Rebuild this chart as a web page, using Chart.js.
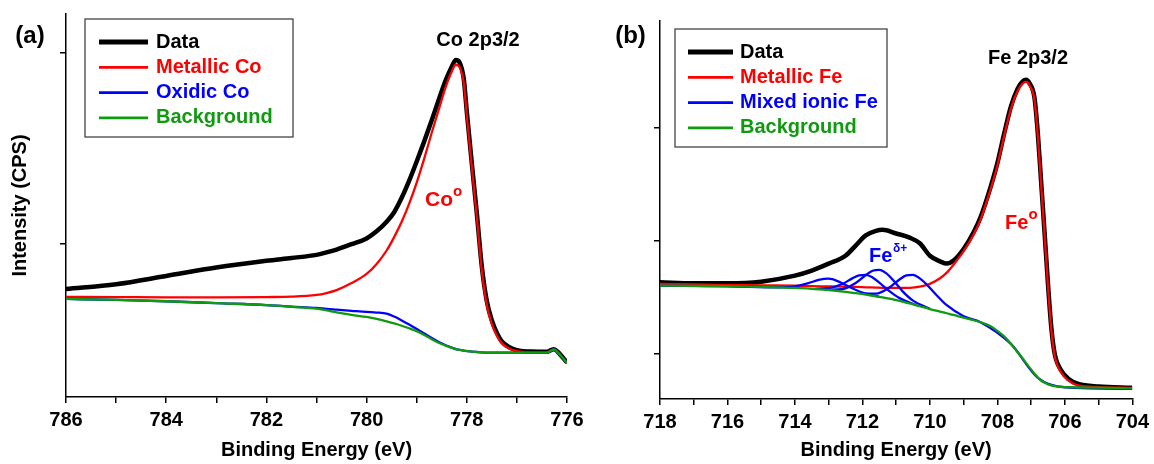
<!DOCTYPE html>
<html>
<head>
<meta charset="UTF-8">
<title>XPS Co 2p3/2 y Fe 2p3/2</title>
<script src="https://cdn.jsdelivr.net/npm/chart.js@4.4.1/dist/chart.umd.min.js"></script>
<style>
  body { margin: 0; background: #fff; }
  #wrap { position: relative; width: 1154px; height: 464px; }
  #graficaCo { position: absolute; left: 0; top: 0; }
  #graficaFe { position: absolute; left: 600px; top: 0; }
</style>
</head>
<body>
<div id="wrap">
  <canvas id="graficaCo" width="600" height="464"></canvas>
  <canvas id="graficaFe" width="554" height="464"></canvas>
</div>

<script>
// ---- (a) Co 2p3/2 ----
const coEnergia = [786, 785, 784, 783, 782, 781.5, 781, 780.8, 780.6, 780.3, 780.0, 779.8, 779.6, 779.45,
    779.3, 779.15, 779.0, 778.85, 778.7, 778.55, 778.42, 778.3, 778.22, 778.14, 778.06, 778.0,
    777.9, 777.8, 777.7, 777.6, 777.5, 777.4, 777.3, 777.15, 777.0, 776.7, 776.4, 776.32,
    776.26, 776.18, 776.08, 776.0];
const coDatos = [7.64, 7.89, 8.32, 8.76, 9.11, 9.26, 9.42, 9.55, 9.7, 9.98, 10.28, 10.65, 11.15, 11.65,
    12.4, 13.3, 14.3, 15.35, 16.45, 17.6, 18.55, 19.25, 19.6, 19.45, 18.6, 16.9,
    14.2, 11.6, 8.8, 7.0, 6.0, 5.35, 4.9, 4.6, 4.45, 4.37, 4.36, 4.45,
    4.5, 4.35, 4.05, 3.8];
const coMetalico = [7.23, 7.22, 7.2, 7.2, 7.22, 7.24, 7.33, 7.43, 7.58, 7.95, 8.43, 8.95, 9.65, 10.35,
    11.15, 12.1, 13.2, 14.45, 15.8, 17.1, 18.2, 19.0, 19.35, 19.2, 18.4, 16.7,
    14.0, 11.4, 8.6, 6.8, 5.8, 5.2, 4.8, 4.52, 4.4, 4.33, 4.33, 4.43,
    4.48, 4.33, 4.03, 3.78];
const coOxidico = [7.12, 7.07, 7.0, 6.9, 6.8, 6.72, 6.65, 6.6, 6.56, 6.5, 6.44, 6.41, 6.35, 6.2,
    6.0, 5.78, 5.55, 5.32, 5.08, 4.86, 4.7, 4.58, 4.5, 4.46, 4.42, 4.4,
    4.37, 4.35, 4.33, 4.32, 4.32, 4.32, 4.32, 4.32, 4.32, 4.32, 4.32, 4.42,
    4.48, 4.32, 4.02, 3.78];
const coFondo = [7.12, 7.07, 7.0, 6.9, 6.8, 6.71, 6.61, 6.52, 6.42, 6.29, 6.18, 6.08, 5.95, 5.84,
    5.72, 5.59, 5.44, 5.24, 5.02, 4.82, 4.68, 4.57, 4.5, 4.46, 4.42, 4.4,
    4.37, 4.35, 4.33, 4.32, 4.32, 4.32, 4.32, 4.32, 4.32, 4.32, 4.32, 4.42,
    4.48, 4.32, 4.02, 3.78];
const coTicksY = [10, 20];

// ---- (b) Fe 2p3/2 ----
const feEnergia = [718, 717, 716, 715, 714, 713.5, 713, 712.5, 712.2, 711.9, 711.6, 711.4, 711.0,
    710.6, 710.3, 710.0, 709.7, 709.5, 709.3, 709.0, 708.7, 708.5, 708.2, 708.0, 707.8, 707.6,
    707.4, 707.25, 707.15, 707.05, 706.9, 706.8, 706.7, 706.6, 706.5, 706.4, 706.3, 706.1,
    705.9, 705.6, 705.0, 704.0];
const feDatos = [16.34, 16.25, 16.25, 16.4, 16.93, 17.38, 18.0, 18.7, 19.6, 20.5, 20.9, 21.0, 20.67,
    20.3, 19.8, 18.7, 18.2, 18.0, 18.27, 19.3, 20.8, 22.1, 24.8, 26.9, 29.5, 31.9,
    33.5, 34.15, 34.3, 34.0, 32.7, 29.5, 25.1, 20.7, 16.2, 12.3, 10.0, 8.5,
    7.8, 7.33, 7.1, 7.0];
const feMetalico = [16.2, 16.15, 16.1, 16.07, 16.04, 16.0, 15.98, 15.95, 15.93, 15.9, 15.87, 15.85, 15.84,
    15.85, 15.95, 16.2, 16.7, 17.2, 17.9, 19.1, 20.6, 21.9, 24.6, 26.7, 29.3, 31.7,
    33.3, 33.95, 34.1, 33.8, 32.5, 29.3, 24.9, 20.5, 16.0, 12.1, 9.8, 8.3,
    7.65, 7.2, 7.05, 6.98];
const feFondo = [16.04, 16.02, 16.0, 15.93, 15.84, 15.76, 15.66, 15.5, 15.38, 15.25, 15.1, 15.0, 14.77,
    14.47, 14.22, 13.97, 13.75, 13.6, 13.45, 13.2, 12.98, 12.8, 12.45, 12.04, 11.55, 10.9,
    10.15, 9.6, 9.2, 8.8, 8.25, 7.9, 7.62, 7.45, 7.3, 7.2, 7.14, 7.08,
    7.05, 7.02, 7.0, 6.95];
// componentes Fe(δ+)
const fePico1E = [718, 716, 714.5, 714.0, 713.6, 713.3, 713.0, 712.7, 712.4, 712.0, 711.5];
const fePico1 = [16.03, 15.99, 15.9, 15.98, 16.27, 16.55, 16.66, 16.4, 15.95, 15.44, 15.06];
const fePico2E = [713.4, 713.0, 712.6, 712.3, 712.1, 711.9, 711.7, 711.5, 711.2, 710.9, 710.4];
const fePico2 = [15.76, 15.82, 16.19, 16.69, 16.96, 17.0, 16.77, 16.32, 15.56, 14.94, 14.32];
const fePico3E = [713.0, 712.6, 712.2, 711.9, 711.7, 711.5, 711.3, 711.1, 710.8, 710.5, 710.0];
const fePico3 = [15.69, 15.74, 16.28, 16.99, 17.37, 17.45, 17.16, 16.57, 15.52, 14.72, 14.0];
const fePico4E = [712.0, 711.6, 711.2, 710.9, 710.7, 710.5, 710.3, 710.1, 709.8, 709.5, 709.0, 708.5,
    707.6, 706.8, 706.0, 704.0];
const fePico4 = [15.33, 15.33, 15.88, 16.59, 16.95, 17.0, 16.69, 16.16, 15.2, 14.31, 13.34, 12.81,
    10.88, 7.88, 7.04, 6.92];
const feTicksY = [10, 20, 30];

const FUENTE = "'Liberation Sans', Arial, sans-serif";
const ROJO = '#ff0000';
const AZUL = '#0000ff';
const VERDE = '#109a10';

function pares(xs, ys) {
    return xs.map((x, i) => ({x: x, y: ys[i]}));
}

function serie(label, xs, ys, color, ancho, orden) {
    return {
        label: label,
        data: pares(xs, ys),
        borderColor: color,
        borderWidth: ancho,
        pointRadius: 0,
        fill: false,
        cubicInterpolationMode: 'monotone',
        order: orden
    };
}

// leyenda con marco, como en Origin
const leyendaCaja = {
    id: 'leyendaCaja',
    afterDraw(chart, args, o) {
        const ctx = chart.ctx;
        ctx.save();
        ctx.strokeStyle = '#444';
        ctx.lineWidth = 1.3;
        ctx.strokeRect(o.x, o.y, o.w, o.h);
        ctx.font = 'bold 20px ' + FUENTE;
        ctx.textBaseline = 'middle';
        ctx.textAlign = 'left';
        chart.data.datasets.filter(d => d.label).forEach((d, i) => {
            const y = o.y + 23 + i * 25.3;
            ctx.strokeStyle = d.borderColor;
            ctx.lineWidth = d.borderWidth + 0.5;
            ctx.beginPath();
            ctx.moveTo(o.x1, y);
            ctx.lineTo(o.x2, y);
            ctx.stroke();
            ctx.fillStyle = d.borderColor;
            ctx.fillText(d.label, o.xt, y);
        });
        ctx.restore();
    }
};

const textos = {
    id: 'textos',
    afterDraw(chart, args, o) {
        const ctx = chart.ctx;
        ctx.save();
        ctx.textBaseline = 'alphabetic';
        o.items.forEach(t => {
            ctx.font = 'bold ' + t.size + 'px ' + FUENTE;
            ctx.fillStyle = t.color || '#000';
            ctx.textAlign = t.align || 'left';
            ctx.fillText(t.t, t.x, t.y);
        });
        ctx.restore();
    }
};

function escalas(minX, maxX, minY, maxY, ticksY, anchoY, altoX, tituloY) {
    const fuenteEje = {family: FUENTE, size: 20, weight: 'bold'};
    return {
        x: {
            type: 'linear',
            reverse: true,
            min: minX,
            max: maxX,
            border: {display: true, color: '#000', width: 1.5},
            grid: {drawOnChartArea: false, drawTicks: true, tickLength: 6, color: '#000', lineWidth: 1.5},
            ticks: {
                stepSize: 1, autoSkip: false, maxRotation: 0, padding: 5, color: '#000',
                font: fuenteEje,
                callback: v => (v % 2 === 0 ? String(v) : '')
            },
            title: {display: true, text: 'Binding Energy (eV)', color: '#000', font: fuenteEje,
                padding: {top: 0, bottom: 2}},
            afterFit: s => { s.height = altoX; }
        },
        y: {
            type: 'linear',
            min: minY,
            max: maxY,
            border: {display: true, color: '#000', width: 1.5},
            grid: {drawOnChartArea: false, drawTicks: true, tickLength: 6, color: '#000', lineWidth: 1.5},
            ticks: {display: false},
            afterBuildTicks: s => { s.ticks = ticksY.map(v => ({value: v})); },
            title: {display: tituloY, text: 'Intensity (CPS)', color: '#000', font: fuenteEje,
                padding: {top: 8, bottom: 0}},
            afterFit: s => { s.width = anchoY; }
        }
    };
}

new Chart(document.getElementById('graficaCo').getContext('2d'), {
    type: 'line',
    data: {
        datasets: [
            serie('Data', coEnergia, coDatos, '#000', 4.5, 4),
            serie('Metallic Co', coEnergia, coMetalico, ROJO, 2.3, 3),
            serie('Oxidic Co', coEnergia, coOxidico, AZUL, 2.3, 2),
            serie('Background', coEnergia, coFondo, VERDE, 2.3, 1)
        ]
    },
    options: {
        responsive: false,
        animation: false,
        devicePixelRatio: 1,
        layout: {padding: {left: 0, right: 33, top: 14, bottom: 0}},
        scales: escalas(776, 786, 2, 22, coTicksY, 66, 67, true),
        plugins: {
            legend: {display: false},
            tooltip: {enabled: false},
            leyendaCaja: {x: 85, y: 19, w: 208, h: 118, x1: 99, x2: 148, xt: 156},
            textos: {items: [
                {t: '(a)', x: 30, y: 43, size: 24, align: 'center'},
                {t: 'Co 2p3/2', x: 478, y: 46, size: 20, align: 'center'},
                {t: 'Co', x: 425, y: 206, size: 21, color: ROJO},
                {t: 'o', x: 453, y: 196, size: 15, color: ROJO}
            ]}
        }
    },
    plugins: [leyendaCaja, textos]
});

new Chart(document.getElementById('graficaFe').getContext('2d'), {
    type: 'line',
    data: {
        datasets: [
            serie('Data', feEnergia, feDatos, '#000', 4.5, 4),
            serie('Metallic Fe', feEnergia, feMetalico, ROJO, 2.3, 3),
            serie('Mixed ionic Fe', fePico1E, fePico1, AZUL, 2.3, 2),
            serie('Background', feEnergia, feFondo, VERDE, 2.3, 1),
            serie(undefined, fePico2E, fePico2, AZUL, 2.3, 2),
            serie(undefined, fePico3E, fePico3, AZUL, 2.3, 2),
            serie(undefined, fePico4E, fePico4, AZUL, 2.3, 2)
        ]
    },
    options: {
        responsive: false,
        animation: false,
        devicePixelRatio: 1,
        layout: {padding: {left: 0, right: 18, top: 21, bottom: 0}},
        scales: escalas(704, 718, 6, 39.5, feTicksY, 60, 65, false),
        plugins: {
            legend: {display: false},
            tooltip: {enabled: false},
            leyendaCaja: {x: 75, y: 29, w: 212, h: 118, x1: 88, x2: 133, xt: 140},
            textos: {items: [
                {t: '(b)', x: 30.5, y: 43, size: 24, align: 'center'},
                {t: 'Fe 2p3/2', x: 428, y: 64, size: 20, align: 'center'},
                {t: 'Fe', x: 405, y: 229, size: 20, color: ROJO},
                {t: 'o', x: 428.5, y: 219, size: 15, color: ROJO},
                {t: 'Fe', x: 269, y: 262, size: 20, color: AZUL},
                {t: 'δ+', x: 293, y: 252, size: 12, color: AZUL}
            ]}
        }
    },
    plugins: [leyendaCaja, textos]
});
</script>
</body>
</html>
